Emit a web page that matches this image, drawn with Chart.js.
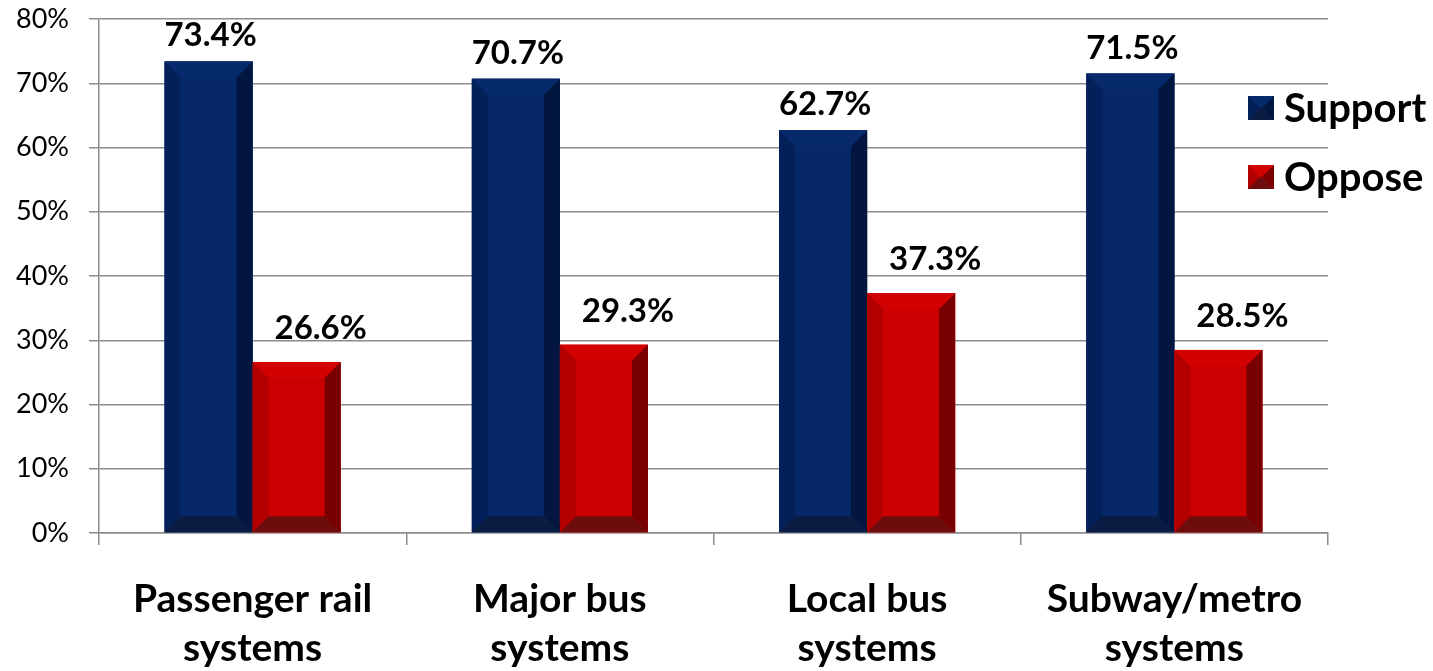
<!DOCTYPE html>
<html>
<head>
<meta charset="utf-8">
<script src="https://cdn.jsdelivr.net/npm/chart.js@4.4.1/dist/chart.umd.min.js"></script>
<style>
  html, body { margin: 0; padding: 0; background: #fff; }
  #wrap { width: 1433px; height: 671px; }
</style>
</head>
<body>
<div id="wrap"><canvas id="supportChart"></canvas></div>
<script>
// data
const categories = [
  ['Passenger rail', 'systems'],
  ['Major bus', 'systems'],
  ['Local bus', 'systems'],
  ['Subway/metro', 'systems'],
];
const supportValues = [73.4, 70.7, 62.7, 71.5];
const opposeValues = [26.6, 29.3, 37.3, 28.5];
const yTicks = [0, 10, 20, 30, 40, 50, 60, 70, 80];

const FONT = 'Lato, "Open Sans", sans-serif';
const GRID = '#8c8c8c';

// bevelled bar faces, drawn on top of the library's bars
function drawBevel(ctx, left, top, right, bottom, b, c) {
  const poly = (pts, color) => {
    ctx.beginPath();
    ctx.moveTo(pts[0][0], pts[0][1]);
    for (let i = 1; i < pts.length; i++) ctx.lineTo(pts[i][0], pts[i][1]);
    ctx.closePath();
    ctx.fillStyle = color;
    ctx.fill();
  };
  ctx.fillStyle = c.face;
  ctx.fillRect(left, top, right - left, bottom - top);
  poly([[left, top], [right, top], [right - b, top + b], [left + b, top + b]], c.top);
  poly([[left, top], [left + b, top + b], [left + b, bottom - b], [left, bottom]], c.left);
  poly([[right, top], [right, bottom], [right - b, bottom - b], [right - b, top + b]], c.right);
  poly([[left, bottom], [left + b, bottom - b], [right - b, bottom - b], [right, bottom]], c.bottom);
}

const bevelBars = {
  id: 'bevelBars',
  afterDatasetsDraw(chart) {
    const ctx = chart.ctx;
    chart.data.datasets.forEach((ds, i) => {
      const meta = chart.getDatasetMeta(i);
      meta.data.forEach(bar => {
        const p = bar.getProps(['x', 'y', 'base', 'width'], true);
        const l = p.x - p.width / 2, r = p.x + p.width / 2;
        ctx.save();
        drawBevel(ctx, l, p.y, r, p.base, 16, ds.bevel);
        ctx.restore();
      });
    });
  }
};

const valueLabels = {
  id: 'valueLabels',
  afterDatasetsDraw(chart) {
    const ctx = chart.ctx;
    ctx.save();
    ctx.font = 'bold 33px ' + FONT;
    ctx.fillStyle = '#000';
    ctx.textAlign = 'center';
    ctx.textBaseline = 'alphabetic';
    chart.data.datasets.forEach((ds, i) => {
      const meta = chart.getDatasetMeta(i);
      meta.data.forEach((bar, j) => {
        ctx.fillText(ds.data[j].toFixed(1) + '%', bar.x + ds.labelDx, bar.y - ds.labelGap);
      });
    });
    ctx.restore();
  }
};

const sideLegend = {
  id: 'sideLegend',
  afterDraw(chart) {
    const ctx = chart.ctx;
    ctx.save();
    ctx.font = 'bold 40px ' + FONT;
    ctx.textBaseline = 'middle';
    chart.data.datasets.forEach((ds, i) => {
      const cy = 108 + i * 69;
      drawBevel(ctx, 1248, cy - 12, 1274, cy + 12, 12, ds.bevel);
      ctx.fillStyle = '#000';
      ctx.fillText(ds.label, 1284, cy + 1);
    });
    ctx.restore();
  }
};

const barData = {
  labels: categories,
  datasets: [{
    label: 'Support',
    data: supportValues,
    backgroundColor: '#062868',
    bevel: { face: '#062868', top: '#072a6c', left: '#04205a', right: '#021640', bottom: '#0b1c42' },
    labelDx: 2,
    labelGap: 15
  }, {
    label: 'Oppose',
    data: opposeValues,
    backgroundColor: '#cc0000',
    bevel: { face: '#cc0000', top: '#d20202', left: '#b20000', right: '#780000', bottom: '#6c0c0c' },
    labelDx: 24,
    labelGap: 23
  }]
};

const configBar = {
  type: 'bar',
  data: barData,
  options: {
    responsive: true,
    maintainAspectRatio: false,
    animation: false,
    categoryPercentage: 0.573,
    barPercentage: 1.0,
    layout: { padding: { top: 19, right: 105, left: 0, bottom: 0 } },
    plugins: {
      legend: { display: false },
      tooltip: { enabled: false }
    },
    scales: {
      x: {
        grid: {
          offset: true,
          drawOnChartArea: false,
          drawTicks: true,
          tickLength: 12,
          color: GRID,
          lineWidth: 1.5
        },
        border: { color: GRID, width: 1.5 },
        ticks: {
          color: '#000',
          padding: 29,
          font: { family: FONT, size: 39, weight: 'bold', lineHeight: 1.28 },
          maxRotation: 0,
          autoSkip: false
        },
        afterFit(scale) { scale.height = 138; }
      },
      y: {
        min: yTicks[0],
        max: yTicks[yTicks.length - 1],
        afterBuildTicks(scale) { scale.ticks = yTicks.map(v => ({ value: v })); },
        grid: { color: GRID, lineWidth: 1.5, tickLength: 10 },
        border: { color: GRID, width: 1.5 },
        ticks: {
          color: '#000',
          padding: 20,
          font: { family: FONT, size: 27 },
          callback: v => v + '%'
        },
        afterFit(scale) {
          scale.width = 99;
          scale.paddingTop = 0;
          scale.paddingBottom = 0;
        }
      }
    }
  },
  plugins: [bevelBars, valueLabels, sideLegend]
};

var supportChart = document.getElementById('supportChart');
let chart1 = new Chart(supportChart, configBar);
</script>
</body>
</html>
